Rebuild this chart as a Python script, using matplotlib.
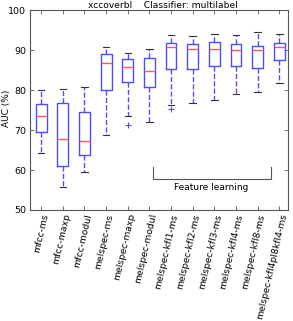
import matplotlib
matplotlib.use("Agg")
from matplotlib import pyplot as plt

labels = ["mfcc-ms", "mfcc-maxp", "mfcc-modul", "melspec-ms", "melspec-maxp",
          "melspec-modul", "melspec-kfl1-ms", "melspec-kfl2-ms", "melspec-kfl3-ms",
          "melspec-kfl4-ms", "melspec-kfl8-ms", "melspec-kfl4pl8kfl4-ms"]
whislo = [64.2, 55.7, 59.5, 68.8, 73.6, 72.0, 76.2, 76.7, 77.5, 78.9, 79.4, 81.7]
q1 = [69.4, 61.1, 63.7, 80.0, 82.1, 80.8, 85.25, 85.3, 85.9, 85.9, 85.6, 87.4]
med = [73.6, 67.75, 67.25, 86.7, 85.7, 84.7, 90.75, 90.2, 90.2, 89.9, 89.9, 90.75]
q3 = [76.6, 76.8, 74.4, 88.9, 87.8, 88.1, 91.75, 91.4, 92.1, 91.6, 90.9, 91.8]
whishi = [80.0, 80.3, 80.8, 90.8, 89.2, 90.2, 93.7, 93.5, 94.1, 93.7, 94.4, 93.9]
fliers = [[], [], [], [], [71.3], [], [75.2], [], [], [], [], []]

stats = []
for i in range(len(labels)):
    stats.append(dict(whislo=whislo[i], q1=q1[i], med=med[i], q3=q3[i],
                      whishi=whishi[i], fliers=fliers[i], label=labels[i]))

fig = plt.figure(figsize=(2.93, 3.21), dpi=100)
ax = fig.add_axes([0.1034, 0.3458, 0.8796, 0.623])

ax.bxp(stats, positions=range(1, 13), widths=0.5, capwidths=0.3,
       boxprops=dict(color="#4d4dff", linewidth=1.0),
       whiskerprops=dict(color="#4d4dff", linewidth=1.0, linestyle="--"),
       capprops=dict(color="#333333", linewidth=0.8),
       medianprops=dict(color="#ff5a5a", linewidth=1.0),
       flierprops=dict(marker="+", markeredgecolor="#4d4dff", markersize=4,
                       markeredgewidth=0.8))

ax.set_xlim(0.5, 12.4)
ax.set_ylim(50, 100)
ax.set_yticks([50, 60, 70, 80, 90, 100])
ax.set_xticks(range(1, 13))
ax.set_xticklabels(labels, rotation=77, ha="right", rotation_mode="anchor",
                   fontsize=6.7)
ax.tick_params(axis="y", labelsize=6.8, pad=3)
ax.tick_params(axis="x", pad=2)
ax.tick_params(direction="in", top=True, right=True, length=3, width=0.6,
               color="#555555")
for s in ax.spines.values():
    s.set_color("#555555")
    s.set_linewidth(0.8)

fig.text(6.5 / 293, 1 - 108 / 321, "AUC (%)", rotation=90, ha="center",
         va="center", fontsize=6.5)
fig.text(0.555, 1 - 5 / 321, "xccoverbl    Classifier: multilabel",
         ha="center", va="center", fontsize=6.6)

# bracket marking the feature learning runs
ax.plot([6.15, 6.15, 11.6, 11.6], [60.7, 57.75, 57.75, 60.7], color="#555555",
        linewidth=0.8)
ax.text(8.875, 55.7, "Feature learning", ha="center", va="center", fontsize=6.5)

fig.savefig("out.png", dpi=100)
